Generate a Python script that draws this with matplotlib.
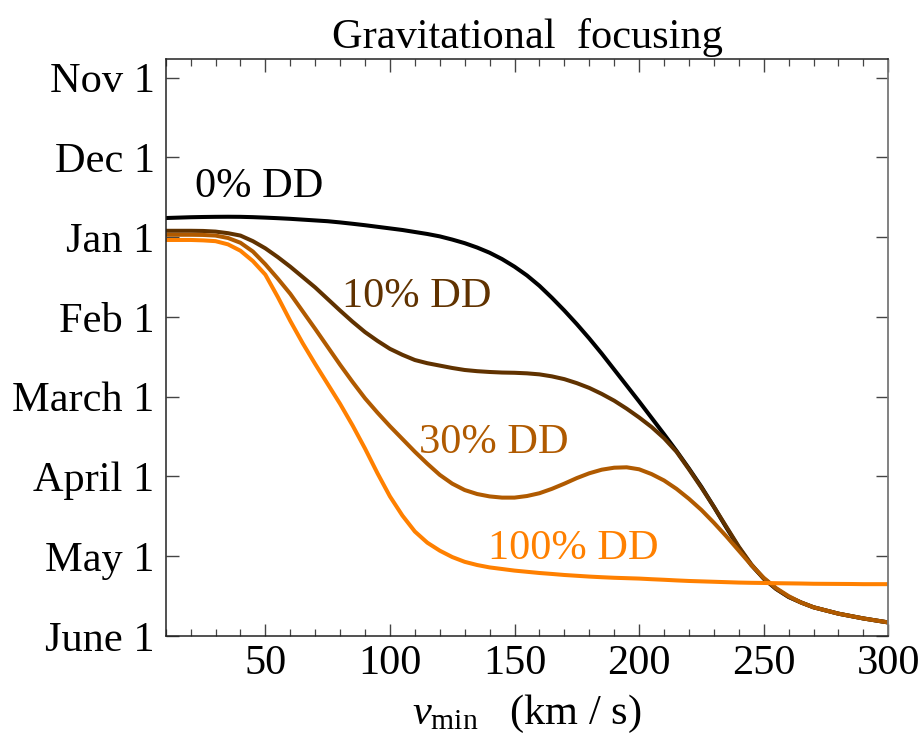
import numpy as np
import matplotlib
matplotlib.use("Agg")
import matplotlib.pyplot as plt
from matplotlib.ticker import MultipleLocator

plt.rcParams["font.family"] = "serif"
plt.rcParams["font.serif"] = ["Liberation Serif", "DejaVu Serif"]
plt.rcParams["mathtext.fontset"] = "custom"
plt.rcParams["mathtext.rm"] = "Liberation Serif"
plt.rcParams["mathtext.it"] = "Liberation Serif:italic"

# minimum speed (km/s), 10 .. 300 in steps of 5
v_min = list(range(10, 301, 5))

# date of the modulation peak, in months after Jan 1
peak_0 = [-0.24, -0.245, -0.25, -0.253, -0.255, -0.256, -0.255, -0.251, -0.245, -0.238,
          -0.23, -0.22, -0.21, -0.20, -0.185, -0.168, -0.15, -0.13, -0.11, -0.09,
          -0.065, -0.04, -0.01, 0.03, 0.075, 0.13, 0.195, 0.275, 0.37, 0.48,
          0.61, 0.76, 0.92, 1.09, 1.27, 1.46, 1.66, 1.86, 2.06, 2.265,
          2.47, 2.68, 2.90, 3.13, 3.38, 3.64, 3.89, 4.11, 4.28, 4.41,
          4.51, 4.58, 4.64, 4.68, 4.72, 4.75, 4.78, 4.805, 4.83]
peak_10 = [-0.08, -0.08, -0.08, -0.078, -0.07, -0.05, -0.02, 0.05, 0.14, 0.25,
           0.37, 0.50, 0.63, 0.775, 0.92, 1.06, 1.19, 1.30, 1.40, 1.475,
           1.54, 1.58, 1.61, 1.64, 1.665, 1.68, 1.69, 1.697, 1.70, 1.707,
           1.72, 1.745, 1.78, 1.83, 1.89, 1.965, 2.05, 2.15, 2.26, 2.38,
           2.52, 2.69, 2.91, 3.14, 3.38, 3.63, 3.88, 4.10, 4.28, 4.41,
           4.51, 4.58, 4.64, 4.68, 4.72, 4.75, 4.78, 4.805, 4.83]
peak_30 = [-0.03, -0.03, -0.03, -0.028, -0.02, 0.01, 0.07, 0.18, 0.34, 0.52,
           0.71, 0.93, 1.15, 1.375, 1.60, 1.815, 2.02, 2.20, 2.37, 2.53,
           2.69, 2.84, 2.98, 3.09, 3.17, 3.22, 3.25, 3.265, 3.265, 3.245,
           3.21, 3.155, 3.09, 3.02, 2.96, 2.915, 2.89, 2.885, 2.91, 2.97,
           3.05, 3.155, 3.28, 3.42, 3.58, 3.75, 3.93, 4.11, 4.27, 4.40,
           4.50, 4.58, 4.64, 4.68, 4.72, 4.75, 4.78, 4.805, 4.83]
peak_100 = [0.035, 0.035, 0.035, 0.04, 0.05, 0.09, 0.17, 0.30, 0.47, 0.75,
            1.05, 1.33, 1.59, 1.84, 2.09, 2.36, 2.65, 2.96, 3.25, 3.49,
            3.69, 3.83, 3.93, 4.01, 4.07, 4.11, 4.14, 4.16, 4.18, 4.195,
            4.21, 4.222, 4.235, 4.245, 4.255, 4.263, 4.27, 4.275, 4.28, 4.288,
            4.295, 4.303, 4.31, 4.315, 4.32, 4.325, 4.33, 4.333, 4.335, 4.338,
            4.34, 4.342, 4.345, 4.346, 4.347, 4.348, 4.35, 4.35, 4.35]

month_ticks = [-2, -1, 0, 1, 2, 3, 4, 5]
month_labels = ["Nov 1", "Dec 1", "Jan 1", "Feb 1", "March 1", "April 1", "May 1", "June 1"]

series = [
    ("0% DD", peak_0, "#000000", (47.5, -0.63)),
    ("10% DD", peak_10, "#603200", (110.9, 0.75)),
    ("30% DD", peak_30, "#b05a00", (141.5, 2.58)),
    ("100% DD", peak_100, "#ff8000", (173.6, 3.90)),
]

fs = 30.5

fig = plt.figure(figsize=(9.23, 7.43), dpi=100)
ax = fig.add_axes([0.1795, 0.144, 0.7829, 0.7762])

for label, y, color, (tx, ty) in series:
    ax.plot(v_min, y, color=color, lw=2.9, solid_capstyle="butt")
    ax.text(tx, ty, label, color=color, fontsize=fs, ha="center", va="center")

ax.set_xlim(10, 300)
ax.set_ylim(5, -2.23)
ax.xaxis.set_major_locator(MultipleLocator(50))
ax.xaxis.set_minor_locator(MultipleLocator(10))
ax.set_yticks(month_ticks)
ax.set_yticklabels(month_labels)

ax.tick_params(axis="both", which="both", direction="in", top=True, right=True,
               labelsize=fs, color="#444444")
ax.tick_params(axis="both", which="major", length=9, width=1.0)
ax.tick_params(axis="x", which="minor", length=5, width=0.9)
ax.tick_params(axis="x", which="major", pad=6)
ax.tick_params(axis="y", which="major", pad=8)

for side in ["left", "bottom", "top"]:
    ax.spines[side].set_color("#222222")
    ax.spines[side].set_linewidth(1.1)
ax.spines["right"].set_color("#777777")
ax.spines["right"].set_linewidth(1.3)

ax.set_title("Gravitational  focusing", fontsize=fs, pad=8)
ax.set_xlabel(r"$v_{\mathrm{min}}$   (km / s)", fontsize=fs, labelpad=7)

fig.savefig("out.png", dpi=100)
